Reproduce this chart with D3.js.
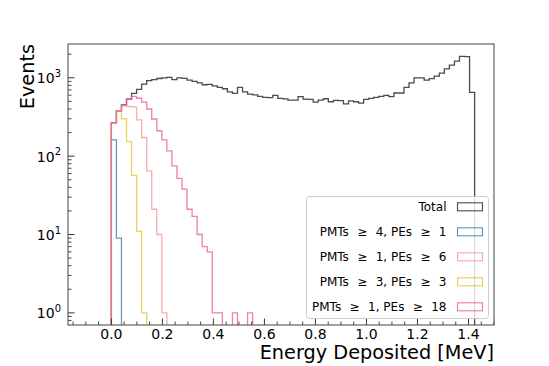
<!DOCTYPE html>
<html><head><meta charset="utf-8">
<script src="https://cdn.jsdelivr.net/npm/d3@7"></script>
<style>body{margin:0;background:#fff} svg{display:block;font-family:"DejaVu Sans",sans-serif}</style>
</head><body><svg id="c" width="549" height="366"></svg>
<script>
// ---- data (counts per energy bin, bins start at binStart with width binWidth, MeV)
const binStart = 0.0;
const binWidth = 0.019778;
const totalCounts = [268, 380, 452, 535, 634, 713, 830, 920, 950, 980,
  1000, 1010, 945, 995, 985, 935, 900, 860, 815, 826,
  790, 755, 725, 660, 634, 755, 660, 620, 605, 578,
  562, 560, 598, 545, 538, 520, 518, 575, 535, 530,
  490, 518, 540, 495, 515, 510, 466, 508, 495, 476,
  530, 545, 564, 580, 597, 575, 640, 640, 755, 860,
  1000, 1000, 935, 978, 1050, 1150, 1300, 1450, 1630, 1880,
  1860, 650];
const pmt4pe1 = [161, 9];
const pmt1pe6 = [265, 377, 440, 430, 425, 290, 173, 65, 21, 10, 1];
const pmt3pe3 = [262, 380, 300, 153, 57, 11, 1];
const pmt1pe18 = [267, 377, 449, 530, 580, 548, 490, 400, 298, 211,
  161, 117, 75, 52, 38, 21, 17, 10, 7, 6,
  1, 1, 0, 0, 1, 0, 0, 1];
const seriesNames = ["Total", "PMTs \u2265 4, PEs \u2265 1", "PMTs \u2265 1, PEs \u2265 6", "PMTs \u2265 3, PEs \u2265 3", "PMTs \u2265 1, PEs \u2265 18"];
const seriesColors = ["#2b2b2b", "#3f80aa", "#f59a9a", "#e2c93a", "#e9609a"];
const xTicks = [0.0, 0.2, 0.4, 0.6, 0.8, 1.0, 1.2, 1.4];
const yTickExps = [0, 1, 2, 3];
const xLabel = "Energy Deposited [MeV]";
const yLabel = "Events";

// ---- layout
const L = 68, R = 494, T = 44, B = 325;
const svg = d3.select("#c");
const x = d3.scaleLinear().domain([-0.17, 1.5]).range([L, R]);
const y = d3.scaleLog().domain([0.7, 2700]).range([B, T]);

svg.append("defs").append("clipPath").attr("id", "clip")
  .append("rect").attr("x", L).attr("y", T).attr("width", R - L).attr("height", B - T);

const allSeries = [totalCounts, pmt4pe1, pmt1pe6, pmt3pe3, pmt1pe18];
const line = d3.line();
const gLines = svg.append("g").attr("clip-path", "url(#clip)");
allSeries.forEach((counts, i) => {
  const below = B + 20;
  const pts = [[x(binStart), below]];
  counts.forEach((v, k) => {
    const yy = v > 0 ? y(v) : below;
    pts.push([x(binStart + k * binWidth), yy]);
    pts.push([x(binStart + (k + 1) * binWidth), yy]);
  });
  pts.push([x(binStart + counts.length * binWidth), below]);
  gLines.append("path").attr("d", line(pts))
    .attr("fill", "none").attr("stroke", seriesColors[i])
    .attr("stroke-width", 1.3).attr("stroke-opacity", i === 0 ? 0.85 : 0.8)
    .attr("stroke-linejoin", "miter");
});

// ---- axes
const axisColor = "#333";
const gAx = svg.append("g");
const xMinor = d3.range(-0.15, 1.5001, 0.05).filter(v => xTicks.every(t => Math.abs(t - v) > 1e-6));
xMinor.forEach(v => gAx.append("line").attr("x1", x(v)).attr("x2", x(v)).attr("y1", B).attr("y2", B - 3.5).attr("stroke", axisColor).attr("stroke-width", 0.9));
xTicks.forEach(v => {
  gAx.append("line").attr("x1", x(v)).attr("x2", x(v)).attr("y1", B).attr("y2", B - 6.5).attr("stroke", axisColor).attr("stroke-width", 1);
  gAx.append("text").attr("x", x(v)).attr("y", B + 13.5).attr("text-anchor", "middle")
    .attr("font-size", 14).attr("fill", "#000").text(v.toFixed(1));
});
const [y0, y1] = y.domain();
for (let e = -1; e <= 3; e++) {
  for (let d = 2; d <= 9; d++) {
    const v = d * Math.pow(10, e);
    if (v > y0 + 1e-9 && v < y1) {
      gAx.append("line").attr("x1", L).attr("x2", L + 3.5).attr("y1", y(v)).attr("y2", y(v)).attr("stroke", axisColor).attr("stroke-width", 0.9);
    }
  }
}
yTickExps.forEach(e => {
  const v = Math.pow(10, e);
  gAx.append("line").attr("x1", L).attr("x2", L + 6.5).attr("y1", y(v)).attr("y2", y(v)).attr("stroke", axisColor).attr("stroke-width", 1);
  const t = gAx.append("text").attr("x", 61).attr("y", y(v) + 5.5).attr("text-anchor", "end").attr("fill", "#000");
  t.append("tspan").attr("font-size", 14).text("10");
  t.append("tspan").attr("font-size", 10).attr("dy", -6.5).text(String(e));
});
gAx.append("rect").attr("x", L).attr("y", T).attr("width", R - L).attr("height", B - T)
  .attr("fill", "none").attr("stroke", "#555").attr("stroke-width", 1.1);

// labels
svg.append("text").attr("transform", `translate(34,${T}) rotate(-90)`).attr("text-anchor", "end")
  .attr("font-size", 19.3).attr("fill", "#000").text(yLabel);
svg.append("text").attr("x", R).attr("y", 359).attr("text-anchor", "end")
  .attr("font-size", 19.3).attr("fill", "#000").text(xLabel);

// ---- legend
const lg = svg.append("g");
lg.append("rect").attr("x", 306.5).attr("y", 196.5).attr("width", 182).attr("height", 122).attr("rx", 3)
  .attr("fill", "#fff").attr("fill-opacity", 0.8).attr("stroke", "#cccccc").attr("stroke-width", 1);
seriesNames.forEach((name, i) => {
  const cy = 206.8 + i * 25;
  lg.append("rect").attr("x", 457.5).attr("y", cy - 4).attr("width", 25).attr("height", 8)
    .attr("fill", "none").attr("stroke", seriesColors[i]).attr("stroke-width", 1.1).attr("stroke-opacity", 0.85);
  lg.append("text").attr("x", 446.5).attr("y", cy + 4.3).attr("text-anchor", "end")
    .attr("font-size", 12).attr("fill", "#000").text(name.replace(/ \u2265 /g, "\u2002\u2009\u2265\u2002\u2009"));
});
</script></body></html>
